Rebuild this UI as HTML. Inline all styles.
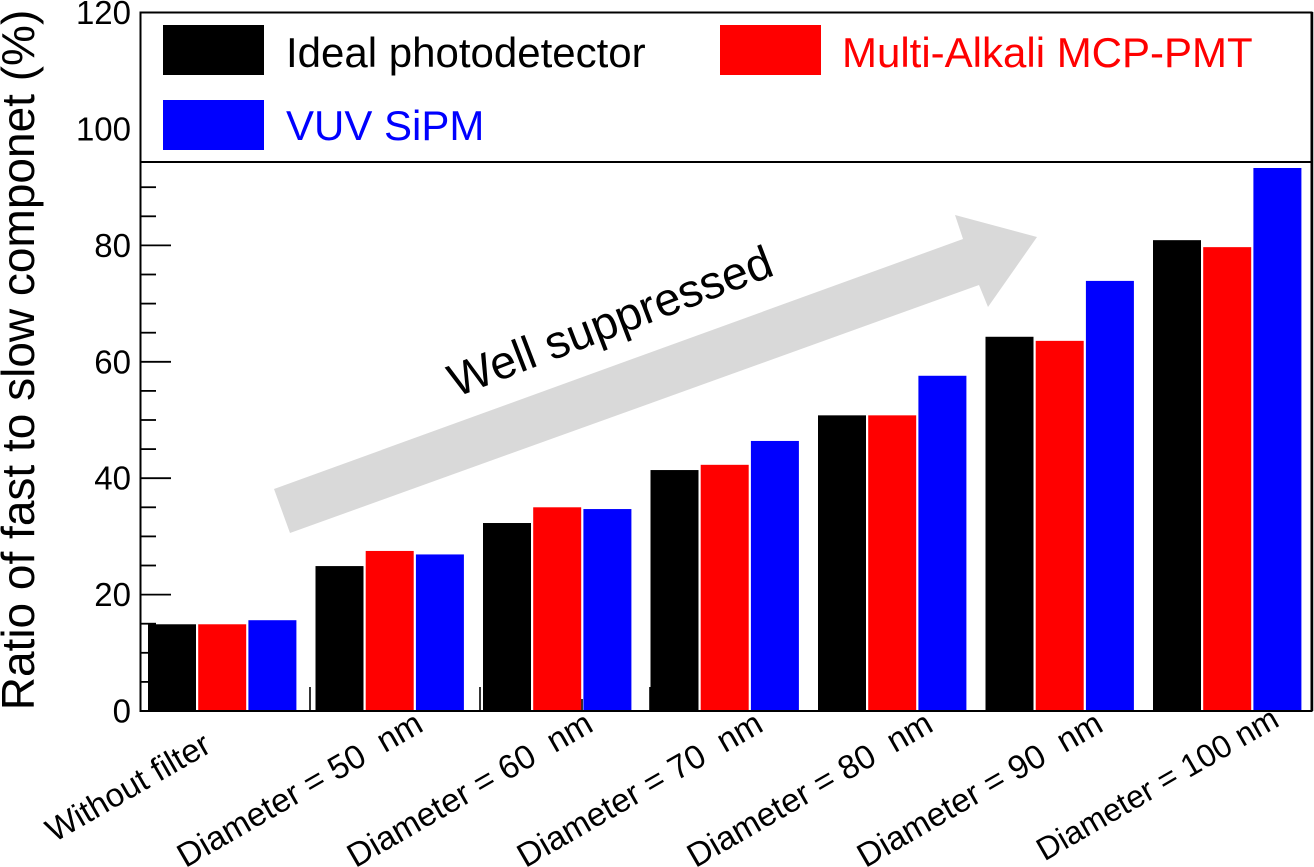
<!DOCTYPE html>
<html lang="en">
<head>
<meta charset="utf-8">
<title>Ratio of fast to slow component</title>
<style>
html,body{margin:0;padding:0;background:#fff;width:1314px;height:867px;overflow:hidden}
svg{display:block;font-family:"Liberation Sans",sans-serif}
</style>
</head>
<body>
<svg id="chart" width="1314" height="867" viewBox="0 0 1314 867" xmlns="http://www.w3.org/2000/svg">
  <polygon points="955,215 1037,237 988,307 979,285 290,533 274,489 963,239" fill="#d9d9d9"/>
  <text x="616" y="336" font-size="46.5" text-anchor="middle" transform="rotate(-21 616 336)">Well suppressed</text>
  <g id="stubs"></g>
  <g id="bars"></g>
  <g id="axes"></g>
  <text transform="translate(34 360) rotate(-90)" font-size="46" text-anchor="middle">Ratio of fast to slow componet (%)</text>
  <line x1="140" y1="162" x2="1312" y2="162" stroke="#000" stroke-width="2"/>
  <g>
    <rect x="163" y="25" width="101" height="50" fill="#000"/>
    <text x="286" y="67" font-size="42" fill="#000">Ideal photodetector</text>
    <rect x="720" y="25" width="101" height="50" fill="#f00"/>
    <text x="842" y="67" font-size="42" fill="#f00">Multi-Alkali MCP-PMT</text>
    <rect x="163" y="100" width="101" height="50" fill="#00f"/>
    <text x="286" y="140" font-size="42" fill="#00f">VUV SiPM</text>
  </g>
</svg>
<script>
const categories = ["Without filter", "Diameter = 50\u00a0\u00a0nm", "Diameter = 60\u00a0\u00a0nm", "Diameter = 70\u00a0\u00a0nm", "Diameter = 80\u00a0\u00a0nm", "Diameter = 90\u00a0\u00a0nm", "Diameter = 100 nm"];
const idealValues = [14.9, 24.9, 32.3, 41.4, 50.8, 64.3, 80.9];
const multiAlkaliValues = [14.9, 27.5, 35.0, 42.3, 50.8, 63.6, 79.7];
const vuvValues = [15.6, 26.9, 34.7, 46.4, 57.6, 73.9, 93.3];
const majorTicks = [0, 20, 40, 60, 80, 100, 120];
const minorTicks = [5, 10, 15, 25, 30, 35, 45, 50, 55, 65, 70, 75, 85, 90];

const NS = "http://www.w3.org/2000/svg";
const yScale = v => 711 - v * 5.82;
const groupX = i => 148 + i * 167.5;
const barW = 48, barPitch = 50.2;

function make(tag, attrs, parent) {
  const el = document.createElementNS(NS, tag);
  for (const k in attrs) el.setAttribute(k, attrs[k]);
  parent.appendChild(el);
  return el;
}

const barsG = document.getElementById("bars");
const axesG = document.getElementById("axes");
const stubsG = document.getElementById("stubs");

[310, 480, 582, 650].forEach((x, i) => {
  const s = make("line", {x1: x, x2: x, y1: i === 2 ? 699 : 687, y2: 711, stroke: "#000", "stroke-width": 1.6}, stubsG);
  
  
});

const seriesList = [
  {values: idealValues, color: "#000", key: "ideal"},
  {values: multiAlkaliValues, color: "#f00", key: "multi-alkali"},
  {values: vuvValues, color: "#00f", key: "vuv"}
];
seriesList.forEach((s, si) => {
  s.values.forEach((v, i) => {
    const y = yScale(v);
    const r = make("rect", {x: groupX(i) + si * barPitch, y: y, width: barW, height: 711 - y, fill: s.color}, barsG);
    
    
  });
});

const frame = make("rect", {x: 140.5, y: 12.5, width: 1171, height: 698.5, fill: "none", stroke: "#000", "stroke-width": 2}, axesG);


const rightEdge = make("line", {x1: 1312, x2: 1312, y1: 12, y2: 711, stroke: "#000", "stroke-width": 2.5}, axesG);



majorTicks.forEach(t => {
  const y = yScale(t);
  if (t > 0 && t < 100) {
    const l = make("line", {x1: 140, x2: 171, y1: y, y2: y, stroke: "#000", "stroke-width": 1.8}, axesG);
    
    
  }
  const tx = make("text", {x: 131, y: y + 11.5, "font-size": 33, "text-anchor": "end"}, axesG);
  tx.textContent = t;
  
  
});
minorTicks.forEach(t => {
  const y = yScale(t);
  const l = make("line", {x1: 140, x2: 156, y1: y, y2: y, stroke: "#000", "stroke-width": 1.8}, axesG);
  
  
});

categories.forEach((c, i) => {
  let ax = 255 + i * 170;
  let ay = 730;
  if (i === 0) { ax = 213; ay = 751; }
  if (i === 6) { ax += 6; ay -= 5; }
  const t = make("text", {x: ax, y: ay, "font-size": i === 0 ? 33 : (i === 6 ? 32 : 33.5), "text-anchor": "end", transform: "rotate(-30 " + ax + " " + ay + ")"}, axesG);
  t.textContent = c;
  
  
});
</script>
</body>
</html>
